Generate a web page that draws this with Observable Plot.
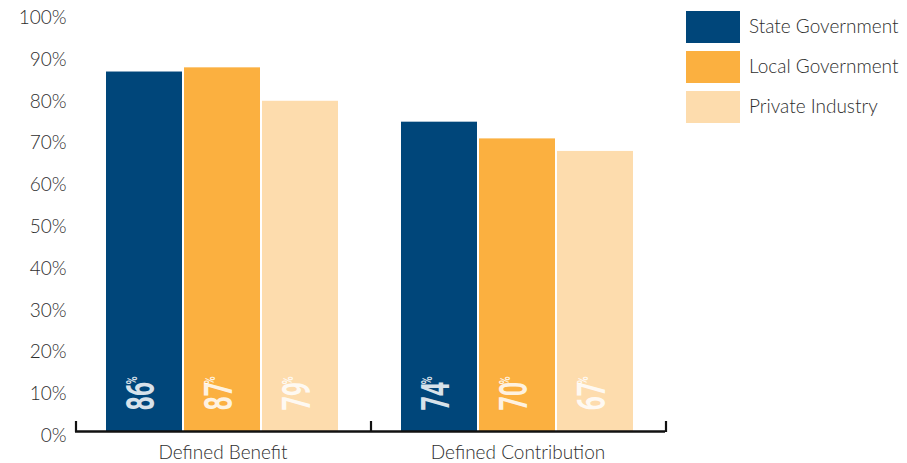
<!DOCTYPE html>
<html>
<head>
<meta charset="utf-8">
<script src="https://cdn.jsdelivr.net/npm/d3@7"></script>
<script src="https://cdn.jsdelivr.net/npm/@observablehq/plot@0.6"></script>
<style>
  html, body { margin: 0; padding: 0; background: #fff; }
  #wrap { position: relative; width: 907px; height: 463px; font-family: Lato, "Open Sans", sans-serif; }
  #legend { position: absolute; left: 686px; top: 11px; }
  .item { display: flex; align-items: center; height: 32px; margin-bottom: 8px; }
  .sw { width: 54px; height: 32px; margin-right: 9px; }
  .lab { font-size: 19px; font-weight: 300; color: #2e2e2e; position: relative; top: -2px; white-space: nowrap; }
</style>
</head>
<body>
<div id="wrap"><div id="legend"></div></div>
<script>
const groups = ["Defined Benefit", "Defined Contribution"];
const series = ["State Government", "Local Government", "Private Industry"];
const colors = ["#00467a", "#fbb040", "#fddcad"];
const stateValues = [86, 74];
const localValues = [87, 70];
const privateValues = [79, 67];
const yTicks = [0, 10, 20, 30, 40, 50, 60, 70, 80, 90, 100];

const seriesValues = [stateValues, localValues, privateValues];
const data = [];
groups.forEach((g, gi) => series.forEach((s, si) => data.push({group: g, series: s, value: seriesValues[si][gi]})));

const plot = Plot.plot({
  width: 907,
  height: 463,
  marginLeft: 75,
  marginRight: 242,
  marginTop: 13,
  marginBottom: 32,
  style: {fontFamily: "Lato, sans-serif", fontSize: "19px", color: "#333", background: "transparent"},
  fx: {domain: groups, padding: 0, label: null},
  x: {domain: series, paddingInner: 0.02, paddingOuter: 0.39, axis: null},
  y: {domain: [0, 100], axis: null},
  color: {domain: series, range: colors},
  marks: [
    Plot.barY(data, {fx: "group", x: "series", y: "value", fill: "series"}),
    Plot.ruleY([0], {stroke: "#111", strokeWidth: 2.5}),
    Plot.axisY({ticks: yTicks, tickSize: 0, tickPadding: 9, tickFormat: d => d + "%", dy: 4.5, fontSize: 19, fontWeight: 300, fill: "#2e2e2e", label: null}),
    Plot.axisFx({anchor: "bottom", tickSize: 0, tickPadding: 14, label: null, fontSize: 19, fontWeight: 300, fill: "#2e2e2e"}),
    Plot.text(data, {fx: "group", x: "series", y: 0, text: d => String(d.value), rotate: -90, textAnchor: "start", dy: -21, dx: -3,
      fill: "white", fillOpacity: 0.86, fontSize: 39, fontWeight: 700, fontFamily: "Roboto, sans-serif"}),
    Plot.text(data, {fx: "group", x: "series", y: 0, text: () => "%", rotate: -90, textAnchor: "start", dy: -47, dx: -12,
      fill: "white", fillOpacity: 0.86, fontSize: 14, fontWeight: 700, fontFamily: "Roboto, sans-serif"})
  ]
});

// condensed look for the value labels (compress along the text direction)
d3.select(plot).selectAll("text").each(function () {
  if (this.closest('[aria-label$="tick label"]')) return;
  const txt = this.textContent.trim();
  const t = this.getAttribute("transform");
  if (!t || !/rotate/.test(t)) return;
  if (txt === "%") this.setAttribute("transform", t + " scale(0.8,1)");
  else if (/^\d+$/.test(txt)) this.setAttribute("transform", t + " scale(0.64,1)");
});

// boundary ticks on the baseline, from the plot's own scales
const fxS = plot.scale("fx");
const yS = plot.scale("y");
const edges = groups.map(g => fxS.apply(g)).concat([fxS.apply(groups[groups.length - 1]) + fxS.bandwidth]);
const y0 = yS.apply(0);
d3.select(plot).append("g")
  .selectAll("line").data(edges).join("line")
  .attr("x1", d => d + 1).attr("x2", d => d + 1)
  .attr("y1", y0 + 1).attr("y2", y0 - 10)
  .attr("stroke", "#111").attr("stroke-width", 2.2);

document.getElementById("wrap").prepend(plot);

const legend = d3.select("#legend");
series.forEach((s, i) => {
  const it = legend.append("div").attr("class", "item");
  it.append("div").attr("class", "sw").style("background", colors[i]);
  it.append("div").attr("class", "lab").text(s);
});
</script>
</body>
</html>
